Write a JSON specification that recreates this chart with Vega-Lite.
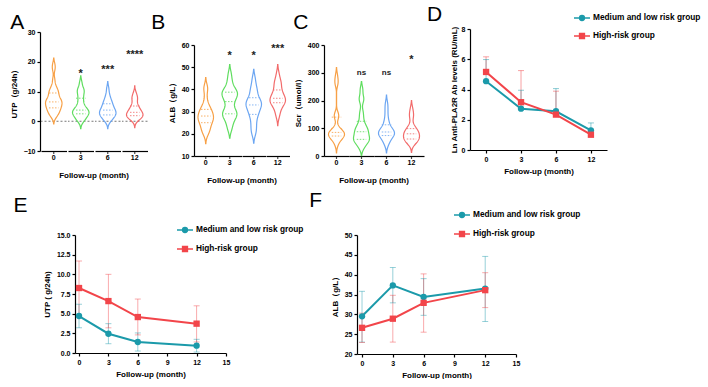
{
  "$schema": "https://vega.github.io/schema/vega-lite/v6.json",
  "background": "white",
  "padding": {"left": 0, "top": 3, "right": 0, "bottom": 0},
  "spacing": 5,
  "resolve": {"scale": {"color": "independent", "shape": "independent"}},
  "datasets": {
    "utp": [
      {"m":0,"v":19},{"m":0,"v":17.5},{"m":0,"v":14},{"m":0,"v":12},{"m":0,"v":11},{"m":0,"v":10.5},{"m":0,"v":10},{"m":0,"v":9.5},{"m":0,"v":9},{"m":0,"v":8.5},{"m":0,"v":8},{"m":0,"v":7.5},{"m":0,"v":7},{"m":0,"v":7},{"m":0,"v":6.5},{"m":0,"v":6.5},{"m":0,"v":6},{"m":0,"v":6},{"m":0,"v":5.5},{"m":0,"v":5},{"m":0,"v":5},{"m":0,"v":4.5},{"m":0,"v":4},{"m":0,"v":4},{"m":0,"v":3.5},{"m":0,"v":3},{"m":0,"v":2.5},{"m":0,"v":2},{"m":0,"v":1.5},
      {"m":3,"v":13},{"m":3,"v":11},{"m":3,"v":10.5},{"m":3,"v":10},{"m":3,"v":9},{"m":3,"v":8},{"m":3,"v":7},{"m":3,"v":6},{"m":3,"v":5},{"m":3,"v":4.5},{"m":3,"v":4},{"m":3,"v":3.5},{"m":3,"v":3.5},{"m":3,"v":3},{"m":3,"v":3},{"m":3,"v":2.5},{"m":3,"v":2.5},{"m":3,"v":2},{"m":3,"v":1.5},{"m":3,"v":1},{"m":3,"v":0.5},{"m":3,"v":0},
      {"m":6,"v":11},{"m":6,"v":9},{"m":6,"v":8},{"m":6,"v":7},{"m":6,"v":6.5},{"m":6,"v":6},{"m":6,"v":5.5},{"m":6,"v":5},{"m":6,"v":4.5},{"m":6,"v":4},{"m":6,"v":4},{"m":6,"v":3.5},{"m":6,"v":3},{"m":6,"v":3},{"m":6,"v":2.5},{"m":6,"v":2.5},{"m":6,"v":2},{"m":6,"v":2},{"m":6,"v":1.5},{"m":6,"v":1},{"m":6,"v":0.5},{"m":6,"v":0},
      {"m":12,"v":9.5},{"m":12,"v":8},{"m":12,"v":8},{"m":12,"v":7},{"m":12,"v":5.5},{"m":12,"v":5},{"m":12,"v":4.5},{"m":12,"v":4},{"m":12,"v":3.5},{"m":12,"v":3},{"m":12,"v":3},{"m":12,"v":2.5},{"m":12,"v":2.5},{"m":12,"v":2},{"m":12,"v":2},{"m":12,"v":1.5},{"m":12,"v":1.5},{"m":12,"v":1},{"m":12,"v":1},{"m":12,"v":0.5},
      {"m":3,"s":"*","sy":15.8},{"m":6,"s":"***","sy":17.1},{"m":12,"s":"****","sy":22.2}
    ],
    "alb": [
      {"m":0,"v":41},{"m":0,"v":40},{"m":0,"v":36},{"m":0,"v":33},{"m":0,"v":32},{"m":0,"v":31},{"m":0,"v":30},{"m":0,"v":30},{"m":0,"v":29},{"m":0,"v":28},{"m":0,"v":28},{"m":0,"v":27},{"m":0,"v":27},{"m":0,"v":26},{"m":0,"v":26},{"m":0,"v":25},{"m":0,"v":24},{"m":0,"v":23},{"m":0,"v":22},{"m":0,"v":21},{"m":0,"v":20},
      {"m":3,"v":47},{"m":3,"v":44},{"m":3,"v":42},{"m":3,"v":40},{"m":3,"v":39},{"m":3,"v":39},{"m":3,"v":38},{"m":3,"v":38},{"m":3,"v":37},{"m":3,"v":36},{"m":3,"v":35},{"m":3,"v":34},{"m":3,"v":32},{"m":3,"v":30},{"m":3,"v":30},{"m":3,"v":29},{"m":3,"v":29},{"m":3,"v":28},{"m":3,"v":27},{"m":3,"v":26},{"m":3,"v":24},{"m":3,"v":22},
      {"m":6,"v":45},{"m":6,"v":42},{"m":6,"v":40},{"m":6,"v":39},{"m":6,"v":37},{"m":6,"v":36},{"m":6,"v":35},{"m":6,"v":34},{"m":6,"v":34},{"m":6,"v":33},{"m":6,"v":33},{"m":6,"v":32},{"m":6,"v":31},{"m":6,"v":30},{"m":6,"v":29},{"m":6,"v":28},{"m":6,"v":26},{"m":6,"v":24},{"m":6,"v":22},{"m":6,"v":20},
      {"m":12,"v":47},{"m":12,"v":44},{"m":12,"v":43},{"m":12,"v":42},{"m":12,"v":40},{"m":12,"v":39},{"m":12,"v":38},{"m":12,"v":37},{"m":12,"v":36},{"m":12,"v":36},{"m":12,"v":35},{"m":12,"v":35},{"m":12,"v":34},{"m":12,"v":34},{"m":12,"v":33},{"m":12,"v":32},{"m":12,"v":30},{"m":12,"v":28},
      {"m":3,"s":"*","sy":55},{"m":6,"s":"*","sy":55},{"m":12,"s":"***","sy":58.4}
    ],
    "scr": [
      {"m":0,"v":290},{"m":0,"v":270},{"m":0,"v":260},{"m":0,"v":150},{"m":0,"v":145},{"m":0,"v":140},{"m":0,"v":100},{"m":0,"v":95},{"m":0,"v":90},{"m":0,"v":85},{"m":0,"v":85},{"m":0,"v":80},{"m":0,"v":80},{"m":0,"v":78},{"m":0,"v":75},{"m":0,"v":72},{"m":0,"v":70},{"m":0,"v":65},{"m":0,"v":60},{"m":0,"v":55},{"m":0,"v":40},
      {"m":3,"v":240},{"m":3,"v":210},{"m":3,"v":200},{"m":3,"v":160},{"m":3,"v":140},{"m":3,"v":120},{"m":3,"v":110},{"m":3,"v":100},{"m":3,"v":95},{"m":3,"v":90},{"m":3,"v":85},{"m":3,"v":80},{"m":3,"v":70},{"m":3,"v":65},{"m":3,"v":60},{"m":3,"v":60},{"m":3,"v":55},{"m":3,"v":50},{"m":3,"v":40},{"m":3,"v":30},
      {"m":6,"v":190},{"m":6,"v":170},{"m":6,"v":150},{"m":6,"v":130},{"m":6,"v":120},{"m":6,"v":110},{"m":6,"v":100},{"m":6,"v":95},{"m":6,"v":90},{"m":6,"v":88},{"m":6,"v":85},{"m":6,"v":85},{"m":6,"v":80},{"m":6,"v":78},{"m":6,"v":75},{"m":6,"v":70},{"m":6,"v":65},{"m":6,"v":60},{"m":6,"v":50},{"m":6,"v":40},
      {"m":12,"v":170},{"m":12,"v":150},{"m":12,"v":140},{"m":12,"v":110},{"m":12,"v":100},{"m":12,"v":95},{"m":12,"v":90},{"m":12,"v":85},{"m":12,"v":80},{"m":12,"v":80},{"m":12,"v":75},{"m":12,"v":70},{"m":12,"v":65},{"m":12,"v":60},{"m":12,"v":60},{"m":12,"v":55},{"m":12,"v":50},{"m":12,"v":45},
      {"m":3,"s":"ns","sy":299},{"m":6,"s":"ns","sy":299},{"m":12,"s":"*","sy":346}
    ],
    "ab": [
      {"g":"Medium and low risk group","m":0,"mean":4.55,"hi":5.98},
      {"g":"Medium and low risk group","m":3,"mean":2.73,"hi":3.95},
      {"g":"Medium and low risk group","m":6,"mean":2.56,"hi":4.06},
      {"g":"Medium and low risk group","m":12,"mean":1.30,"hi":1.79},
      {"g":"High-risk group","m":0,"mean":5.16,"hi":6.16},
      {"g":"High-risk group","m":3,"mean":3.16,"hi":5.25},
      {"g":"High-risk group","m":6,"mean":2.34,"hi":3.89},
      {"g":"High-risk group","m":12,"mean":1.01,"hi":1.35}
    ],
    "utpg": [
      {"g":"Medium and low risk group","m":0,"mean":4.7,"lo":3.2,"hi":6.19},
      {"g":"Medium and low risk group","m":3,"mean":2.45,"lo":1.18,"hi":3.73},
      {"g":"Medium and low risk group","m":6,"mean":1.4,"lo":0.25,"hi":2.55},
      {"g":"Medium and low risk group","m":12,"mean":0.93,"lo":0.12,"hi":1.74},
      {"g":"High-risk group","m":0,"mean":8.26,"lo":4.8,"hi":11.7},
      {"g":"High-risk group","m":3,"mean":6.6,"lo":3.2,"hi":10.0},
      {"g":"High-risk group","m":6,"mean":4.57,"lo":2.3,"hi":6.86},
      {"g":"High-risk group","m":12,"mean":3.73,"lo":1.4,"hi":6.0}
    ],
    "albg": [
      {"g":"Medium and low risk group","m":0,"mean":29.5,"lo":23.0,"hi":35.8},
      {"g":"Medium and low risk group","m":3,"mean":37.3,"lo":32.9,"hi":41.8},
      {"g":"Medium and low risk group","m":6,"mean":34.4,"lo":29.75,"hi":39.0},
      {"g":"Medium and low risk group","m":12,"mean":36.5,"lo":28.2,"hi":44.6},
      {"g":"High-risk group","m":0,"mean":26.6,"lo":22.9,"hi":30.3},
      {"g":"High-risk group","m":3,"mean":28.9,"lo":23.0,"hi":34.8},
      {"g":"High-risk group","m":6,"mean":32.9,"lo":25.5,"hi":40.2},
      {"g":"High-risk group","m":12,"mean":36.1,"lo":31.7,"hi":40.5}
    ]
  },
  "vconcat": [
    {
      "spacing": 3,
      "resolve": {"scale": {"color": "independent", "shape": "independent"}},
      "hconcat": [
        {"width": 1, "height": 1, "data": {"values": [{"k": 0}]}, "mark": {"type": "point", "opacity": 0}, "encoding": {}},
        {
          "title": {"text": "A", "offset": -11.5},
          "spacing": 0,
          "vconcat": [
            {"width": 102, "height": 6.5, "data": {"values": [{"k": 0}]}, "mark": {"type": "point", "opacity": 0}, "encoding": {}},
            {
              "data": {"name": "utp"},
              "facet": {"column": {"field": "m", "type": "ordinal", "header": {"title": "Follow-up  (month)", "labelOrient": "bottom", "titleOrient": "bottom", "labelPadding": 0, "titlePadding": 1}}},
              "spacing": 0,
              "resolve": {"scale": {"x": "independent"}},
              "spec": {
                "width": 25.5, "height": 119,
                "layer": [
                  {
                    "transform": [{"aggregate": [{"op": "count", "as": "n"}], "groupby": ["m"]}],
                    "mark": {"type": "rule", "strokeDash": [2, 2], "color": "#777777", "strokeWidth": 1},
                    "encoding": {"y": {"datum": 0, "type": "quantitative", "scale": {"domain": [-10, 30], "nice": false}, "axis": {"values": [-10, 0, 10, 20, 30], "tickCount": 20, "format": "d", "labelOverlap": false}, "title": "UTP（g/24h）"}}
                  },
                  {
                    "transform": [{"filter": "isValid(datum.v)"}, {"density": "v", "groupby": ["m"], "bandwidth": 1.1, "extent": [-6, 26], "steps": 200, "as": ["v", "d"]}, {"filter": "datum.d > 0.0015"}],
                    "mark": {"type": "area", "orient": "horizontal", "fill": "transparent", "strokeWidth": 1.2},
                    "encoding": {
                      "y": {"field": "v", "type": "quantitative", "title": "UTP（g/24h）"},
                      "x": {"field": "d", "type": "quantitative", "stack": "center", "impute": null, "scale": {"nice": false, "padding": 4.5}, "axis": {"title": null, "labels": false, "ticks": false, "grid": false, "domain": true}},
                      "stroke": {"field": "m", "type": "ordinal", "scale": {"domain": [0, 3, 6, 12], "range": ["#F7A046", "#5FDD5F", "#6CA6F2", "#F26B6B"]}, "legend": null}
                    }
                  },
                  {
                    "transform": [{"filter": "isValid(datum.v)"}, {"aggregate": [{"op": "q1", "field": "v", "as": "q1"}, {"op": "median", "field": "v", "as": "q2"}, {"op": "q3", "field": "v", "as": "q3"}], "groupby": ["m"]}, {"fold": ["q1", "q2", "q3"], "as": ["k", "qv"]}],
                    "mark": {"type": "point", "shape": "M-1,0H1", "filled": false, "size": 90, "strokeWidth": 0.9, "strokeDash": [1.5, 1.5], "opacity": 0.9},
                    "encoding": {
                      "y": {"field": "qv", "type": "quantitative", "title": "UTP（g/24h）"},
                      "stroke": {"field": "m", "type": "ordinal", "legend": null}
                    }
                  },
                  {
                    "transform": [{"filter": "isValid(datum.s)"}],
                    "mark": {"type": "text", "fontWeight": "bold", "baseline": "middle", "color": "#222222"},
                    "encoding": {
                      "y": {"field": "sy", "type": "quantitative", "title": "UTP（g/24h）"},
                      "text": {"field": "s"},
                      "size": {"condition": {"test": "datum.s === 'ns'", "value": 8}, "value": 11}
                    }
                  },
                  {
                    "transform": [{"aggregate": [{"op": "count", "as": "n"}], "groupby": ["m"]}],
                    "mark": {"type": "tick", "orient": "vertical", "size": 3, "thickness": 1.2, "yOffset": 1.5, "color": "black"},
                    "encoding": {"y": {"datum": -10, "type": "quantitative"}}
                  }
                ]
              }
            }
          ]
        },
        {
          "title": {"text": "B", "offset": -11.5, "dx": -17},
          "spacing": 0,
          "vconcat": [
            {"width": 94, "height": 19.5, "data": {"values": [{"k": 0}]}, "mark": {"type": "point", "opacity": 0}, "encoding": {}},
            {
              "data": {"name": "alb"},
              "facet": {"column": {"field": "m", "type": "ordinal", "header": {"title": "Follow-up  (month)", "labelOrient": "bottom", "titleOrient": "bottom", "labelPadding": 0, "titlePadding": 1}}},
              "spacing": 0,
              "resolve": {"scale": {"x": "independent"}},
              "spec": {
                "width": 23.5, "height": 111,
                "layer": [
                  {
                    "transform": [{"filter": "isValid(datum.v)"}, {"density": "v", "groupby": ["m"], "bandwidth": 2, "extent": [8, 62], "steps": 200, "as": ["v", "d"]}, {"filter": "datum.d > 0.001"}],
                    "mark": {"type": "area", "orient": "horizontal", "fill": "transparent", "strokeWidth": 1.2},
                    "encoding": {
                      "y": {"field": "v", "type": "quantitative", "scale": {"domain": [10, 60], "nice": false}, "axis": {"values": [10, 20, 30, 40, 50, 60], "tickCount": 20, "format": "d", "labelOverlap": false}, "title": "ALB（g/L）"},
                      "x": {"field": "d", "type": "quantitative", "stack": "center", "impute": null, "scale": {"nice": false, "padding": 4}, "axis": {"title": null, "labels": false, "ticks": false, "grid": false, "domain": true}},
                      "stroke": {"field": "m", "type": "ordinal", "scale": {"domain": [0, 3, 6, 12], "range": ["#F7A046", "#5FDD5F", "#6CA6F2", "#F26B6B"]}, "legend": null}
                    }
                  },
                  {
                    "transform": [{"filter": "isValid(datum.v)"}, {"aggregate": [{"op": "q1", "field": "v", "as": "q1"}, {"op": "median", "field": "v", "as": "q2"}, {"op": "q3", "field": "v", "as": "q3"}], "groupby": ["m"]}, {"fold": ["q1", "q2", "q3"], "as": ["k", "qv"]}],
                    "mark": {"type": "point", "shape": "M-1,0H1", "filled": false, "size": 90, "strokeWidth": 0.9, "strokeDash": [1.5, 1.5], "opacity": 0.9},
                    "encoding": {
                      "y": {"field": "qv", "type": "quantitative", "title": "ALB（g/L）"},
                      "stroke": {"field": "m", "type": "ordinal", "legend": null}
                    }
                  },
                  {
                    "transform": [{"filter": "isValid(datum.s)"}],
                    "mark": {"type": "text", "fontWeight": "bold", "baseline": "middle", "color": "#222222"},
                    "encoding": {
                      "y": {"field": "sy", "type": "quantitative", "title": "ALB（g/L）"},
                      "text": {"field": "s"},
                      "size": {"condition": {"test": "datum.s === 'ns'", "value": 8}, "value": 11}
                    }
                  },
                  {
                    "transform": [{"aggregate": [{"op": "count", "as": "n"}], "groupby": ["m"]}],
                    "mark": {"type": "tick", "orient": "vertical", "size": 3, "thickness": 1.2, "yOffset": 1.5, "color": "black"},
                    "encoding": {"y": {"datum": 10, "type": "quantitative"}}
                  }
                ]
              }
            }
          ]
        },
        {
          "title": {"text": "C", "offset": -11.5, "dx": -1},
          "spacing": 0,
          "vconcat": [
            {"width": 100, "height": 19.5, "data": {"values": [{"k": 0}]}, "mark": {"type": "point", "opacity": 0}, "encoding": {}},
            {
              "data": {"name": "scr"},
              "facet": {"column": {"field": "m", "type": "ordinal", "header": {"title": "Follow-up  (month)", "labelOrient": "bottom", "titleOrient": "bottom", "labelPadding": 0, "titlePadding": 1}}},
              "spacing": 0,
              "resolve": {"scale": {"x": "independent"}},
              "spec": {
                "width": 25, "height": 111,
                "layer": [
                  {
                    "transform": [{"filter": "isValid(datum.v)"}, {"density": "v", "groupby": ["m"], "bandwidth": 14, "extent": [0, 360], "steps": 200, "as": ["v", "d"]}, {"filter": "datum.d > 0.00015"}],
                    "mark": {"type": "area", "orient": "horizontal", "fill": "transparent", "strokeWidth": 1.2},
                    "encoding": {
                      "y": {"field": "v", "type": "quantitative", "scale": {"domain": [0, 400], "nice": false}, "axis": {"values": [0, 100, 200, 300, 400], "tickCount": 20, "format": "d", "labelOverlap": false}, "title": "Scr（umol/l）"},
                      "x": {"field": "d", "type": "quantitative", "stack": "center", "impute": null, "scale": {"nice": false, "padding": 4.5}, "axis": {"title": null, "labels": false, "ticks": false, "grid": false, "domain": true}},
                      "stroke": {"field": "m", "type": "ordinal", "scale": {"domain": [0, 3, 6, 12], "range": ["#F7A046", "#5FDD5F", "#6CA6F2", "#F26B6B"]}, "legend": null}
                    }
                  },
                  {
                    "transform": [{"filter": "isValid(datum.v)"}, {"aggregate": [{"op": "q1", "field": "v", "as": "q1"}, {"op": "median", "field": "v", "as": "q2"}, {"op": "q3", "field": "v", "as": "q3"}], "groupby": ["m"]}, {"fold": ["q1", "q2", "q3"], "as": ["k", "qv"]}],
                    "mark": {"type": "point", "shape": "M-1,0H1", "filled": false, "size": 90, "strokeWidth": 0.9, "strokeDash": [1.5, 1.5], "opacity": 0.9},
                    "encoding": {
                      "y": {"field": "qv", "type": "quantitative", "title": "Scr（umol/l）"},
                      "stroke": {"field": "m", "type": "ordinal", "legend": null}
                    }
                  },
                  {
                    "transform": [{"filter": "isValid(datum.s)"}],
                    "mark": {"type": "text", "fontWeight": "bold", "baseline": "middle", "color": "#222222"},
                    "encoding": {
                      "y": {"field": "sy", "type": "quantitative", "title": "Scr（umol/l）"},
                      "text": {"field": "s"},
                      "size": {"condition": {"test": "datum.s === 'ns'", "value": 8}, "value": 11}
                    }
                  },
                  {
                    "transform": [{"aggregate": [{"op": "count", "as": "n"}], "groupby": ["m"]}],
                    "mark": {"type": "tick", "orient": "vertical", "size": 3, "thickness": 1.2, "yOffset": 1.5, "color": "black"},
                    "encoding": {"y": {"datum": 0, "type": "quantitative"}}
                  }
                ]
              }
            }
          ]
        },
        {
          "title": {"text": "D", "offset": -11.5, "dx": -23},
          "spacing": 0,
          "vconcat": [
            {"width": 137, "height": 1, "data": {"values": [{"k": 0}]}, "mark": {"type": "point", "opacity": 0}, "encoding": {}},
            {
              "data": {"name": "ab"},
              "width": 137, "height": 121,
              "encoding": {
                "x": {"field": "m", "type": "ordinal", "scale": {"type": "point", "padding": 0.46}, "axis": {"title": "Follow-up  (month)", "labelAngle": 0}},
                "color": {"field": "g", "type": "nominal", "scale": {"domain": ["Medium and low risk group", "High-risk group"], "range": ["#1B9AAA", "#F2454A"]},
                  "legend": {"title": null, "orient": "none", "legendX": 107, "legendY": -8, "symbolSize": 64, "labelFontSize": 8.3, "labelFontWeight": "bold", "labelColor": "black", "rowPadding": 6, "labelOffset": 6,
                    "encode": {"symbols": {"update": {
                      "shape": {"signal": "datum.value === 'High-risk group' ? 'M-2,0H2M-0.6,-0.6H0.6V0.6H-0.6Z' : 'M-2,0H2M-0.6,0A0.6,0.6 0 1,0 0.6,0A0.6,0.6 0 1,0 -0.6,0Z'"},
                      "fill": {"signal": "datum.value === 'High-risk group' ? '#F2454A' : '#1B9AAA'"},
                      "stroke": {"signal": "datum.value === 'High-risk group' ? '#F2454A' : '#1B9AAA'"},
                      "strokeWidth": {"value": 1.5}, "opacity": {"value": 1}}}}}}
              },
              "layer": [
                {"mark": {"type": "rule", "strokeWidth": 1, "opacity": 0.5},
                 "encoding": {"y": {"field": "mean", "type": "quantitative", "scale": {"domain": [0, 8], "nice": false}, "axis": {"values": [0, 2, 4, 6, 8], "tickCount": 20, "format": "d", "titlePadding": 3, "labelOverlap": false}, "title": "Ln Anti-PLA2R Ab levels (RU/mL)"}, "y2": {"field": "hi"}}},
                {"mark": {"type": "tick", "orient": "horizontal", "size": 6, "thickness": 1, "opacity": 0.5},
                 "encoding": {"y": {"field": "hi", "type": "quantitative", "title": "Ln Anti-PLA2R Ab levels (RU/mL)"}}},
                {"mark": {"type": "line", "strokeWidth": 2},
                 "encoding": {"y": {"field": "mean", "type": "quantitative", "title": "Ln Anti-PLA2R Ab levels (RU/mL)"}}},
                {"mark": {"type": "point", "filled": true, "size": 40, "opacity": 1},
                 "encoding": {
                   "y": {"field": "mean", "type": "quantitative", "title": "Ln Anti-PLA2R Ab levels (RU/mL)"},
                   "shape": {"condition": {"test": "datum.g === 'High-risk group'", "value": "square"}, "value": "circle"}
                 }}
              ]
            }
          ]
        }
      ]
    },
    {
      "spacing": 5,
      "resolve": {"scale": {"color": "independent", "shape": "independent"}},
      "hconcat": [
        {"width": 3, "height": 1, "data": {"values": [{"k": 0}]}, "mark": {"type": "point", "opacity": 0}, "encoding": {}},
        {
          "title": {"text": "E", "offset": 9, "dx": -30},
          "data": {"name": "utpg"},
          "width": 151, "height": 118,
          "encoding": {
            "x": {"field": "m", "type": "quantitative", "scale": {"domain": [-0.41, 15], "nice": false, "zero": false}, "axis": {"values": [0, 3, 6, 9, 12, 15], "title": "Follow-up  (month)"}},
            "color": {"field": "g", "type": "nominal", "scale": {"domain": ["Medium and low risk group", "High-risk group"], "range": ["#1B9AAA", "#F2454A"]},
              "legend": {"title": null, "orient": "none", "legendX": 105, "legendY": -10, "symbolSize": 64, "labelFontSize": 8.3, "labelFontWeight": "bold", "labelColor": "black", "rowPadding": 7, "labelOffset": 6,
                "encode": {"symbols": {"update": {
                  "shape": {"signal": "datum.value === 'High-risk group' ? 'M-2,0H2M-0.6,-0.6H0.6V0.6H-0.6Z' : 'M-2,0H2M-0.6,0A0.6,0.6 0 1,0 0.6,0A0.6,0.6 0 1,0 -0.6,0Z'"},
                  "fill": {"signal": "datum.value === 'High-risk group' ? '#F2454A' : '#1B9AAA'"},
                  "stroke": {"signal": "datum.value === 'High-risk group' ? '#F2454A' : '#1B9AAA'"},
                  "strokeWidth": {"value": 1.5}, "opacity": {"value": 1}}}}}}
          },
          "layer": [
            {"mark": {"type": "rule", "strokeWidth": 1, "opacity": 0.45},
             "encoding": {"y": {"field": "lo", "type": "quantitative", "scale": {"domain": [0, 15], "nice": false}, "axis": {"values": [0, 2.5, 5, 7.5, 10, 12.5, 15], "tickCount": 20, "format": ".1f", "labelOverlap": false}, "title": "UTP ( g/24h)"}, "y2": {"field": "hi"}}},
            {"mark": {"type": "tick", "orient": "horizontal", "size": 6, "thickness": 1, "opacity": 0.45},
             "encoding": {"y": {"field": "hi", "type": "quantitative", "title": "UTP ( g/24h)"}}},
            {"mark": {"type": "tick", "orient": "horizontal", "size": 6, "thickness": 1, "opacity": 0.45},
             "encoding": {"y": {"field": "lo", "type": "quantitative", "title": "UTP ( g/24h)"}}},
            {"mark": {"type": "line", "strokeWidth": 2},
             "encoding": {"y": {"field": "mean", "type": "quantitative", "title": "UTP ( g/24h)"}}},
            {"mark": {"type": "point", "filled": true, "size": 40, "opacity": 1},
             "encoding": {
               "y": {"field": "mean", "type": "quantitative", "title": "UTP ( g/24h)"},
               "shape": {"condition": {"test": "datum.g === 'High-risk group'", "value": "square"}, "value": "circle"}
             }}
          ]
        },
        {
          "title": {"text": "F", "offset": -1, "dx": -22},
          "data": {"name": "albg"},
          "width": 159, "height": 119,
          "encoding": {
            "x": {"field": "m", "type": "quantitative", "scale": {"domain": [-0.49, 15], "nice": false, "zero": false}, "axis": {"values": [0, 3, 6, 9, 12, 15], "title": "Follow-up  (month)"}},
            "color": {"field": "g", "type": "nominal", "scale": {"domain": ["Medium and low risk group", "High-risk group"], "range": ["#1B9AAA", "#F2454A"]},
              "legend": {"title": null, "orient": "none", "legendX": 100, "legendY": -25, "symbolSize": 64, "labelFontSize": 8.3, "labelFontWeight": "bold", "labelColor": "black", "rowPadding": 7, "labelOffset": 6,
                "encode": {"symbols": {"update": {
                  "shape": {"signal": "datum.value === 'High-risk group' ? 'M-2,0H2M-0.6,-0.6H0.6V0.6H-0.6Z' : 'M-2,0H2M-0.6,0A0.6,0.6 0 1,0 0.6,0A0.6,0.6 0 1,0 -0.6,0Z'"},
                  "fill": {"signal": "datum.value === 'High-risk group' ? '#F2454A' : '#1B9AAA'"},
                  "stroke": {"signal": "datum.value === 'High-risk group' ? '#F2454A' : '#1B9AAA'"},
                  "strokeWidth": {"value": 1.5}, "opacity": {"value": 1}}}}}}
          },
          "layer": [
            {"mark": {"type": "rule", "strokeWidth": 1, "opacity": 0.45},
             "encoding": {"y": {"field": "lo", "type": "quantitative", "scale": {"domain": [20, 50], "nice": false, "zero": false}, "axis": {"values": [20, 25, 30, 35, 40, 45, 50], "tickCount": 20, "format": "d", "labelOverlap": false}, "title": "ALB（g/L）"}, "y2": {"field": "hi"}}},
            {"mark": {"type": "tick", "orient": "horizontal", "size": 6, "thickness": 1, "opacity": 0.45},
             "encoding": {"y": {"field": "hi", "type": "quantitative", "title": "ALB（g/L）"}}},
            {"mark": {"type": "tick", "orient": "horizontal", "size": 6, "thickness": 1, "opacity": 0.45},
             "encoding": {"y": {"field": "lo", "type": "quantitative", "title": "ALB（g/L）"}}},
            {"mark": {"type": "line", "strokeWidth": 2},
             "encoding": {"y": {"field": "mean", "type": "quantitative", "title": "ALB（g/L）"}}},
            {"mark": {"type": "point", "filled": true, "size": 40, "opacity": 1},
             "encoding": {
               "y": {"field": "mean", "type": "quantitative", "title": "ALB（g/L）"},
               "shape": {"condition": {"test": "datum.g === 'High-risk group'", "value": "square"}, "value": "circle"}
             }}
          ]
        }
      ]
    }
  ],
  "config": {
    "font": "Liberation Sans",
    "view": {"stroke": null},
    "axis": {"domainColor": "black", "tickColor": "black", "labelColor": "black", "titleColor": "black", "labelFont": "Liberation Sans", "titleFont": "Liberation Sans", "labelFontSize": 7, "labelFontWeight": "bold", "titleFontSize": 8, "titleFontWeight": "bold", "tickSize": 3, "domainWidth": 1.2, "tickWidth": 1.2, "grid": false, "labelPadding": 2, "titlePadding": 5, "labelOverlap": false, "labelFlush": false},
    "header": {"labelFont": "Liberation Sans", "labelFontSize": 7, "labelFontWeight": "bold", "labelColor": "black", "titleFont": "Liberation Sans", "titleFontSize": 8, "titleFontWeight": "bold", "titleColor": "black"},
    "title": {"font": "Liberation Sans", "fontSize": 21, "fontWeight": "normal", "anchor": "start", "color": "black"},
    "legend": {"labelFont": "Liberation Sans"}
  }
}
